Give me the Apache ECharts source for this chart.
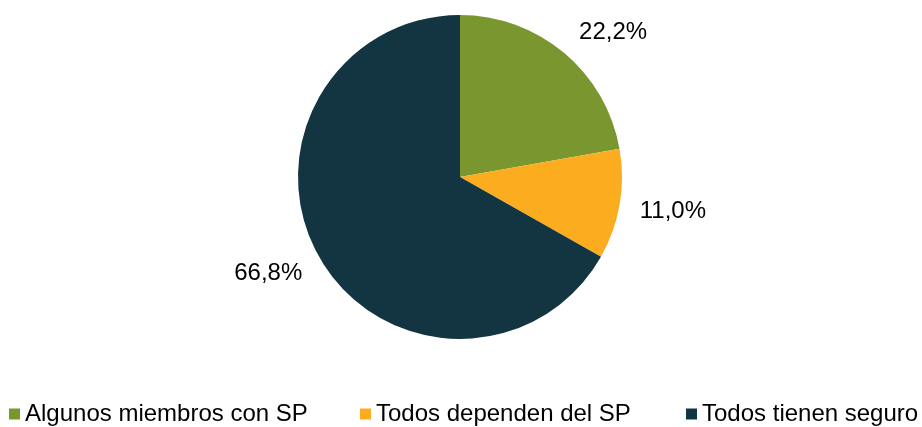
<!DOCTYPE html>
<html>
<head>
<meta charset="utf-8">
<style>
  html, body { margin: 0; padding: 0; background: #fff; }
  #chart { width: 922px; height: 427px; }
</style>
<script src="https://cdn.jsdelivr.net/npm/echarts@6/dist/echarts.min.js"></script>
</head>
<body>
<div id="chart"></div>
<script>
const categories = ['Algunos miembros con SP', 'Todos dependen del SP', 'Todos tienen seguro']
const values = [22.2, 11.0, 66.8]
const colors = ['#7a962f', '#fbad1f', '#133441']
const legendLeft = [9, 360, 686]
// small nudges so labels sit where the original put them
const labelNudge = [[15, 20], [1, -2], [-6, -12]]

const chart = echarts.init(document.getElementById('chart'))

const fmt = (v) => v.toFixed(1).replace('.', ',') + '%'

const pieData = categories.map((name, i) => ({
  name,
  value: values[i],
  itemStyle: { color: colors[i] }
}))

chart.setOption({
  animation: false,
  textStyle: { fontFamily: 'Liberation Sans, Arial, sans-serif' },
  legend: categories.map((name, i) => ({
    data: [{ name, itemStyle: { color: colors[i] } }],
    left: legendLeft[i],
    top: 402,
    padding: 0,
    icon: 'rect',
    itemWidth: 11,
    itemHeight: 11,
    selectedMode: false,
    textStyle: { fontSize: 24, color: '#000', fontFamily: 'Liberation Sans, Arial, sans-serif' }
  })),
  series: [
    {
      type: 'pie',
      center: [460, 177],
      radius: 162,
      startAngle: 90,
      clockwise: true,
      label: { show: false },
      labelLine: { show: false },
      emphasis: { disabled: true },
      data: pieData
    },
    {
      // transparent ring that only carries the percentage labels
      type: 'pie',
      center: [460, 177],
      radius: [200, 224],
      startAngle: 90,
      clockwise: true,
      silent: true,
      itemStyle: { color: 'transparent' },
      label: {
        show: true,
        position: 'inside',
        color: '#000',
        fontSize: 24,
        fontFamily: 'Liberation Sans, Arial, sans-serif',
        formatter: (p) => fmt(p.value)
      },
      labelLine: { show: false },
      emphasis: { disabled: true },
      data: categories.map((name, i) => ({
        name,
        value: values[i],
        label: { offset: labelNudge[i] }
      }))
    }
  ]
})
</script>
</body>
</html>
